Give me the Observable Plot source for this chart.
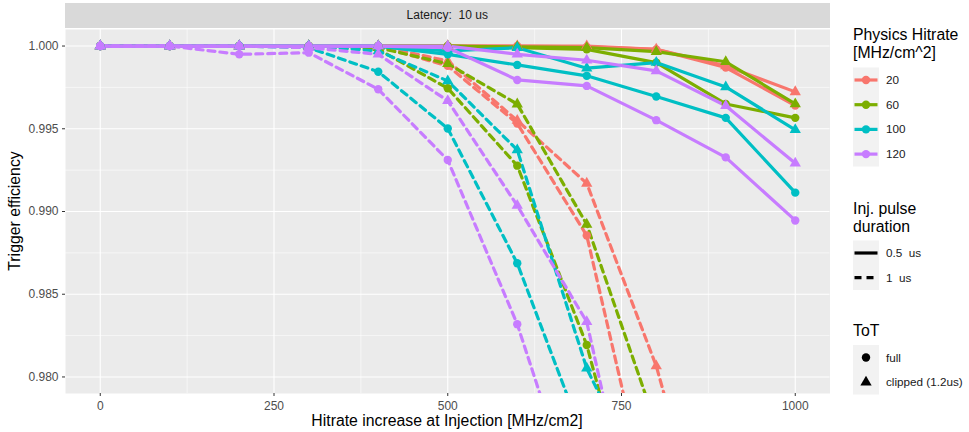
<!DOCTYPE html>
<html><head><meta charset="utf-8">
<script src="https://cdn.jsdelivr.net/npm/d3@7"></script>
<script src="https://cdn.jsdelivr.net/npm/@observablehq/plot@0.6"></script>
<style>
body{margin:0;background:#fff;}
#wrap{position:relative;width:969px;height:432px;font-family:"Liberation Sans",Arial,Helvetica,sans-serif;overflow:hidden;background:#fff}
.abs{position:absolute;white-space:pre;}
</style></head><body>
<div id="wrap"></div>
<script>
// ---- data ----
const xs = [0, 100, 200, 300, 400, 500, 600, 700, 800, 900, 1000];
const hitrates = [20, 60, 100, 120];
const hitrateColors = ["#F8766D", "#7CAE00", "#00BFC4", "#C77CFF"];
const durations = ["0.5  us", "1  us"];
const tots = ["full", "clipped (1.2us)"];
const xTicks = [0, 250, 500, 750, 1000];
const yTicks = [0.980, 0.985, 0.990, 0.995, 1.000];
const xMinor = [125, 375, 625, 875];
const yMinor = [0.9825, 0.9875, 0.9925, 0.9975];

// Physics hitrate 20
const eff_20_05_full    = [1, 1, 1, 1, 1, 1, 1, 0.99995, 0.9998, 0.9987, 0.9964];
const eff_20_05_clipped = [1, 1, 1, 1, 1, 1, 1, 1, 0.9998, 0.9988, 0.99723];
const eff_20_1_full     = [1, 1, 1, 1, 1, 0.9988, 0.99532, 0.98855, 0.9704];
const eff_20_1_clipped  = [1, 1, 1, 1, 1, 0.9991, 0.9955, 0.9917, 0.98066, 0.9657];
// Physics hitrate 60
const eff_60_05_full    = [1, 1, 1, 1, 1, 1, 0.9999, 0.9998, 0.999, 0.9965, 0.99566];
const eff_60_05_clipped = [1, 1, 1, 1, 1, 1, 0.99995, 0.9999, 0.99966, 0.99905, 0.9965];
const eff_60_1_full     = [1, 1, 1, 1, 0.9998, 0.99745, 0.99277, 0.98193, 0.9663];
const eff_60_1_clipped  = [1, 1, 1, 1, 0.9999, 0.99893, 0.99649, 0.98922, 0.97705];
// Physics hitrate 100
const eff_100_05_full    = [1, 1, 1, 1, 1, 0.9995, 0.99886, 0.9982, 0.99695, 0.99566, 0.99114];
const eff_100_05_clipped = [1, 1, 1, 1, 1, 0.9997, 0.9999, 0.99866, 0.999, 0.99753, 0.99494];
const eff_100_1_full     = [1, 1, 1, 0.9999, 0.99845, 0.99502, 0.98687, 0.97578];
const eff_100_1_clipped  = [1, 1, 1, 1, 0.9997, 0.99789, 0.99372, 0.98052, 0.9719];
// Physics hitrate 120
const eff_120_05_full    = [1, 1, 1, 1, 1, 0.9999, 0.99795, 0.99759, 0.99552, 0.99327, 0.98946];
const eff_120_05_clipped = [1, 1, 1, 1, 1, 1, 0.9995, 0.99914, 0.9985, 0.99639, 0.99291];
const eff_120_1_full     = [1, 1, 0.9995, 0.9996, 0.99739, 0.99311, 0.98319, 0.9703];
const eff_120_1_clipped  = [1, 1, 1, 0.9999, 0.9995, 0.99669, 0.99036, 0.98333, 0.9645];

const series = [
  {h: 20, d: durations[0], t: tots[0], v: eff_20_05_full},
  {h: 20, d: durations[0], t: tots[1], v: eff_20_05_clipped},
  {h: 20, d: durations[1], t: tots[0], v: eff_20_1_full},
  {h: 20, d: durations[1], t: tots[1], v: eff_20_1_clipped},
  {h: 60, d: durations[0], t: tots[0], v: eff_60_05_full},
  {h: 60, d: durations[0], t: tots[1], v: eff_60_05_clipped},
  {h: 60, d: durations[1], t: tots[0], v: eff_60_1_full},
  {h: 60, d: durations[1], t: tots[1], v: eff_60_1_clipped},
  {h: 100, d: durations[0], t: tots[0], v: eff_100_05_full},
  {h: 100, d: durations[0], t: tots[1], v: eff_100_05_clipped},
  {h: 100, d: durations[1], t: tots[0], v: eff_100_1_full},
  {h: 100, d: durations[1], t: tots[1], v: eff_100_1_clipped},
  {h: 120, d: durations[0], t: tots[0], v: eff_120_05_full},
  {h: 120, d: durations[0], t: tots[1], v: eff_120_05_clipped},
  {h: 120, d: durations[1], t: tots[0], v: eff_120_1_full},
  {h: 120, d: durations[1], t: tots[1], v: eff_120_1_clipped}
];

const rows = series.flatMap((s, si) => s.v.map((y, i) => ({x: xs[i], y, h: String(s.h), d: s.d, t: s.t, k: si})));

const FONT = '"Liberation Sans", Arial, Helvetica, sans-serif';
const wrap = document.getElementById("wrap");

// ---- plot ----
const chart = Plot.plot({
  width: 830, height: 432,
  marginLeft: 65, marginRight: 0.5, marginTop: 29, marginBottom: 39,
  style: {fontFamily: FONT, fontSize: "12px", color: "#4d4d4d", background: "transparent", overflow: "visible"},
  x: {domain: [-50, 1050]},
  y: {domain: [0.979, 1.001]},
  color: {domain: hitrates.map(String), range: hitrateColors},
  symbol: {domain: tots, range: ["circle", "triangle"]},
  marks: [
    Plot.frame({fill: "#ebebeb", stroke: "none"}),
    Plot.gridX(xMinor, {stroke: "#fff", strokeOpacity: 1, strokeWidth: 0.55}),
    Plot.gridY(yMinor, {stroke: "#fff", strokeOpacity: 1, strokeWidth: 0.55}),
    Plot.gridX(xTicks, {stroke: "#fff", strokeOpacity: 1, strokeWidth: 1.1}),
    Plot.gridY(yTicks, {stroke: "#fff", strokeOpacity: 1, strokeWidth: 1.1}),
    Plot.axisX(xTicks, {tickSize: 3, tickPadding: 4.5, tickFormat: d => String(d), label: null, stroke: "#333", fill: "#4d4d4d"}),
    Plot.axisY(yTicks, {tickSize: 3, tickPadding: 4, tickFormat: d3.format(".3f"), label: null, stroke: "#333", fill: "#4d4d4d"}),
    ...series.map((s, si) => Plot.line(rows.filter(r => r.k === si), {
      x: "x", y: "y", stroke: "h", strokeWidth: 3.2,
      strokeDasharray: s.d === durations[1] ? "7,5" : null, clip: true
    })),
    Plot.dot(rows, {x: "x", y: "y", fill: "h", symbol: "t", r: 4.2, stroke: "none", clip: true})
  ]
});
chart.style.position = "absolute";
chart.style.left = "0px";
chart.style.top = "0px";
wrap.appendChild(chart);

function addText(txt, css) {
  const el = document.createElement("div");
  el.className = "abs";
  el.textContent = txt;
  Object.assign(el.style, css);
  wrap.appendChild(el);
  return el;
}

// facet strip
addText("Latency:  10 us", {left: "65px", top: "3px", width: "764.5px", height: "25px", lineHeight: "25px",
  background: "#d9d9d9", textAlign: "center", fontSize: "12px", color: "#1a1a1a"});

// axis titles
addText("Hitrate increase at Injection [MHz/cm2]", {left: "247px", width: "400px", top: "411px", textAlign: "center", fontSize: "15.8px", color: "#000", lineHeight: "20px"});
addText("Trigger efficiency", {left: "-185px", width: "400px", top: "201px", textAlign: "center", fontSize: "15.8px", color: "#000", lineHeight: "20px", transform: "rotate(-90deg)"});

// ---- legend ----
const svgL = d3.create("svg").attr("width", 969).attr("height", 432)
  .style("position", "absolute").style("left", "0px").style("top", "0px")
  .style("font-family", FONT);
const KX = 853, KW = 26, LX = 886;
function title(lines, y0) {
  lines.forEach((t, i) => svgL.append("text").attr("x", KX).attr("y", y0 + i * 18.5)
    .attr("dy", "0.35em").attr("font-size", 15.8).attr("fill", "#000").style("white-space", "pre").text(t));
}
function label(t, y) {
  svgL.append("text").attr("x", LX).attr("y", y).attr("dy", "0.35em")
    .attr("font-size", 11.7).attr("fill", "#1a1a1a").style("white-space", "pre").text(t);
}
// Physics Hitrate
title(["Physics Hitrate", "[MHz/cm^2]"], 34);
const ys1 = [80, 104.7, 129.4, 154.1];
svgL.append("rect").attr("x", KX).attr("y", 67.5).attr("width", KW).attr("height", 99).attr("fill", "#f2f2f2");
hitrates.forEach((h, i) => {
  const c = hitrateColors[i], y = ys1[i];
  svgL.append("line").attr("x1", KX + 1.5).attr("x2", KX + KW - 1.5).attr("y1", y).attr("y2", y)
    .attr("stroke", c).attr("stroke-width", 3.2);
  svgL.append("circle").attr("cx", KX + KW / 2).attr("cy", y).attr("r", 4.2).attr("fill", c);
  label(String(h), y);
});
// Inj. pulse duration
title(["Inj. pulse", "duration"], 208);
const ys2 = [253, 277.7];
svgL.append("rect").attr("x", KX).attr("y", 240.5).attr("width", KW).attr("height", 49.5).attr("fill", "#f2f2f2");
durations.forEach((d, i) => {
  const y = ys2[i];
  svgL.append("line").attr("x1", KX + 1.5).attr("x2", KX + KW - 1.5).attr("y1", y).attr("y2", y)
    .attr("stroke", "#000").attr("stroke-width", 3.2).attr("stroke-dasharray", i ? "7,5" : null);
  label(d, y);
});
// ToT
title(["ToT"], 330);
const ys3 = [357.5, 382.2];
svgL.append("rect").attr("x", KX).attr("y", 345).attr("width", KW).attr("height", 49.5).attr("fill", "#f2f2f2");
tots.forEach((t, i) => {
  const y = ys3[i];
  const sym = i ? d3.symbolTriangle : d3.symbolCircle;
  svgL.append("path").attr("transform", `translate(${KX + KW / 2},${y})`)
    .attr("d", d3.symbol(sym, Math.PI * 4.2 * 4.2)()).attr("fill", "#000");
  label(t, y);
});
wrap.appendChild(svgL.node());
</script>
</body></html>
